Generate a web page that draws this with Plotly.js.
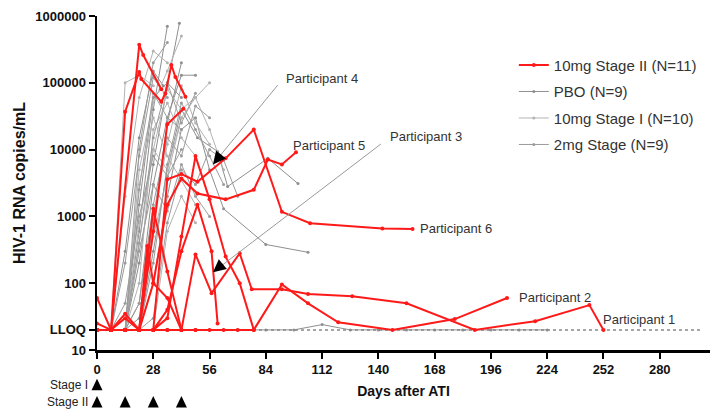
<!DOCTYPE html>
<html><head><meta charset="utf-8">
<script src="https://cdn.plot.ly/plotly-3.0.1.min.js"></script>
<style>html,body{margin:0;padding:0;background:#fff}#chart{width:717px;height:411px}</style>
</head><body><div id="chart"></div>
<script>
// ---------- data ----------
const LLOQ = 20;
const xTicks = [0, 28, 56, 84, 112, 140, 168, 196, 224, 252, 280];
const yTickVals = [10, 20, 100, 1000, 10000, 100000, 1000000];
const yTickText = ['10', 'LLOQ', '100', '1000', '10000', '100000', '1000000'];
const stageIDoseDays = [0];
const stageIIDoseDays = [0, 14, 28, 42];

// 10mg Stage II (N=11)
const stage2Days = [
  [0,7,21,23,32],
  [0,7,14,21,22,32,34,37,39,44],
  [0,7,14,21,28,35,43],
  [0,7,14,21,28,35,42,50,64,78,92,106,142,157],
  [0,7,14,21,28,35,42,50,64,78,85,92,99],
  [0,7,14,21,28,35,42,49,57,71,77,92,105,127,154,188,218,245,252],
  [0,7,14,21,28,35,42,49,56,63,70,78,92,105,120,147,178,204],
  [0,7,14,21,28,35,42,50,57,60],
  [0,7,14,21,28,35,42],
  [0,7,14,21,25,28,35,42,49],
  [0,7,14,21,28,35,42,49,56,64,71,78]
];
const stage2Vals = [
  [20,20,370000,260000,80000],
  [20,20,37000,145000,114000,52000,69000,185000,122000,62000],
  [60,20,20,20,600,24000,41000],
  [20,20,20,20,20,3600,4300,3300,7400,20000,1170,790,660,650],
  [20,20,20,20,100,1500,3700,2200,1800,2500,7100,6000,9100],
  [25,20,30,20,20,20,20,270,71,280,81,81,69,64,50,20,27,47,20],
  [20,20,20,20,20,20,20,20,20,20,20,20,96,50,26,20,29,60],
  [20,20,20,20,20,40,300,1500,300,25],
  [20,20,20,20,1300,150,20],
  [20,20,35,20,360,100,60,20,20],
  [20,20,20,20,20,30,500,8000,1800,250,100,20]
];

// PBO (N=9)
const pboDays = [
  [0,7,14,21,28,35],
  [0,7,14,21,28,35,41],
  [0,7,14,21,28,33],
  [0,7,14,21,28,35,42],
  [0,7,14,21,28,35,42,49],
  [0,7,14,21,28,35,42,50,60,65,85,100],
  [0,7,14,21,28,35,42,49,56,63,84,105],
  [0,7,14,21,28,35,42],
  [0,7,14,21,28,35,42,56,70,84,98,112,126,140,154,168,182,196,210,224]
];
const pboVals = [
  [20,20,20,600,40000,700000],
  [20,20,20,200,6000,90000,780000],
  [20,20,300,15000,150000,90000],
  [20,20,20,1500,60000,100000,60000],
  [20,20,20,50,3000,30000,130000,130000],
  [20,20,20,20,300,5000,40000,15000,9400,2800,7400,3100],
  [20,20,20,20,100,2000,20000,30000,5000,1300,380,290],
  [20,20,20,30,800,25000,200000],
  [20,20,20,20,20,20,20,20,20,20,20,24,20,20,20,20,20,20,20,20]
];

// 10mg Stage I (N=10)
const stage1Days = [
  [0,7,14,21,28],
  [0,7,14,21,28,35],
  [0,7,14,21,28,35,42],
  [0,7,14,21,28,35,42,49,56],
  [0,7,14,21,28,35,42,49],
  [0,7,14,21,28,35,42,49,56],
  [0,7,14,21,28,35,42,49],
  [0,7,14,21,28,35,42,49,56,63],
  [0,7,14,21,28,35,42],
  [0,7,14,21,28,35,42,49]
];
const stage1Vals = [
  [20,20,100000,130000,90000],
  [20,20,2000,60000,300000,200000],
  [20,20,20,5000,50000,150000,500000],
  [20,20,20,400,10000,80000,40000,60000,100000],
  [20,20,20,100,20000,50000,15000,8000],
  [20,20,20,20,1000,12000,90000,25000,12000],
  [20,20,20,3000,30000,8000,3500,1500],
  [20,20,20,20,500,4000,30000,60000,20000,5000],
  [20,20,20,800,10000,5000,30000],
  [20,20,20,20,20,600,2000,800]
];

// 2mg Stage (N=9)
const mg2Days = [
  [0,7,14,21,28,35],
  [0,7,14,21,28,35,42],
  [0,7,14,21,28,35,42,49],
  [0,7,14,21,28,35,42,49,56],
  [0,7,14,21,28,35,42,49,56,63],
  [0,7,14,21,28,35,42],
  [0,7,14,21,28,35],
  [0,7,14,21,28,35,42,49,56,63,70],
  [0,7,14,21,28,35,42,49,56]
];
const mg2Vals = [
  [20,20,200,8000,120000,60000],
  [20,20,20,2500,70000,30000,20000],
  [20,20,20,400,15000,100000,25000,70000],
  [20,20,20,50,1500,15000,8000,45000,30000],
  [20,20,20,20,200,6000,50000,20000,8000,3000],
  [20,20,50,1000,8000,4000,10000],
  [20,20,20,10000,200000,400000],
  [20,20,20,20,30,800,5000,3000,10000,7000,2000],
  [20,20,20,300,3000,1200,6000,2000,1000]
];

// ---------- traces ----------
const traces = [];
function addGroup(daysList, valsList, name, color, lw, ms, rank) {
  daysList.forEach((d, i) => {
    traces.push({
      type: 'scatter', mode: 'lines+markers', x: d, y: valsList[i],
      name: name, legendgroup: name, showlegend: i === 0, legendrank: rank,
      line: {color: color, width: lw},
      marker: {color: color, size: ms, symbol: 'circle'},
      hoverinfo: 'skip'
    });
  });
}
addGroup(pboDays, pboVals, 'PBO (N=9)', '#8f8f8f', 1, 3, 2);
addGroup(stage1Days, stage1Vals, '10mg Stage I (N=10)', '#b3b3b3', 1, 3, 3);
addGroup(mg2Days, mg2Vals, '2mg Stage (N=9)', '#9c9c9c', 1, 3, 4);
// LLOQ dotted reference
traces.push({type:'scatter', mode:'lines', x:[0, 300], y:[LLOQ, LLOQ], showlegend:false,
  line:{color:'#888', width:1.5, dash:'dot'}, hoverinfo:'skip'});
addGroup(stage2Days, stage2Vals, '10mg Stage II (N=11)', '#ff1a1a', 2, 4, 1);

// ---------- annotations ----------
const L = Math.log10;
const annFont = {family: 'Liberation Sans, Arial, sans-serif', size: 13, color: '#333'};
const annotations = [
  {x: 93, y: L(115000), text: 'Participant 4'},
  {x: 96.5, y: L(11700), text: 'Participant 5'},
  {x: 145, y: L(15500), text: 'Participant 3'},
  {x: 159.5, y: L(660), text: 'Participant 6'},
  {x: 209, y: L(62), text: 'Participant 2'},
  {x: 251, y: L(29), text: 'Participant 1'}
].map(a => Object.assign({xref:'x', yref:'y', xanchor:'left', yanchor:'middle', showarrow:false, font: annFont}, a));

// leader lines
annotations.push({xref:'x', yref:'y', axref:'x', ayref:'y', x:57.7, y:L(6000), ax:90.5, ay:L(97000),
  text:'', showarrow:true, arrowhead:0, arrowwidth:1, arrowcolor:'#9a9a9a'});
annotations.push({xref:'x', yref:'y', axref:'x', ayref:'y', x:57.7, y:L(146), ax:142, ay:L(12600),
  text:'', showarrow:true, arrowhead:0, arrowwidth:1, arrowcolor:'#9a9a9a'});
// black arrowheads
annotations.push({xref:'x', yref:'y', x:57.7, y:L(6000), ax:9, ay:-11, text:'', showarrow:true,
  arrowhead:2, arrowsize:1.7, arrowwidth:1.5, arrowcolor:'#000'});
annotations.push({xref:'x', yref:'y', x:57.7, y:L(146), ax:11, ay:-9, text:'', showarrow:true,
  arrowhead:2, arrowsize:1.7, arrowwidth:1.5, arrowcolor:'#000'});

// dosing rows under the axis
const doseFont = {family: 'Liberation Sans Narrow, Liberation Sans, Arial, sans-serif', size: 12, color: '#222'};
const rowYI = -0.104, rowYII = -0.156;
annotations.push({xref:'paper', yref:'paper', x:-0.012, y:rowYI, xanchor:'right', yanchor:'middle', text:'Stage I', showarrow:false, font:doseFont});
annotations.push({xref:'paper', yref:'paper', x:-0.012, y:rowYII, xanchor:'right', yanchor:'middle', text:'Stage II', showarrow:false, font:doseFont});

const xRange = [0, 305];
// dose triangles as pixel-sized shapes anchored at the dosing day (paper ref so day 0 is not clipped)
const triPath = 'M -5.5,-5.5 L 5.5,-5.5 L 0,6 Z';
const shapes = [];
function addDoseMarks(days, rowY) {
  days.forEach(d => shapes.push({type:'path', xref:'paper', yref:'paper', xsizemode:'pixel', ysizemode:'pixel',
    xanchor:(d - xRange[0]) / (xRange[1] - xRange[0]), yanchor:rowY, path:triPath,
    fillcolor:'#000', line:{width:0}, layer:'above'}));
}
addDoseMarks(stageIDoseDays, rowYI);
addDoseMarks(stageIIDoseDays, rowYII);

const tickFont = {family: 'Liberation Sans, Arial, sans-serif', size: 13, color: '#111', weight: 'bold'};
const layout = {
  width: 717, height: 411,
  margin: {l: 97, r: 7, t: 16, b: 61},
  paper_bgcolor: '#fff', plot_bgcolor: '#fff',
  showlegend: true,
  legend: {x: 0.68, y: 0.902, xanchor: 'left', yanchor: 'top', bgcolor: 'rgba(0,0,0,0)',
    font: {family: 'Liberation Sans, Arial, sans-serif', size: 15, color: '#333'}, tracegroupgap: 4},
  xaxis: {
    range: xRange, tickvals: xTicks, ticks: 'outside', ticklen: 6, tickwidth: 2, tickcolor: '#000',
    showline: true, linewidth: 2.5, linecolor: '#000', showgrid: false, zeroline: false,
    tickfont: tickFont,
    title: {text: 'Days after ATI', font: {family: 'Liberation Sans, Arial, sans-serif', size: 14, color: '#111', weight: 'bold'}, standoff: 10}
  },
  yaxis: {
    type: 'log', range: [1, 6], tickvals: yTickVals, ticktext: yTickText,
    ticks: 'outside', ticklen: 6, tickwidth: 2, tickcolor: '#000',
    showline: true, linewidth: 2.5, linecolor: '#000', showgrid: false, zeroline: false,
    tickfont: tickFont,
    title: {text: 'HIV-1 RNA copies/mL', font: {family: 'Liberation Sans, Arial, sans-serif', size: 16, color: '#111', weight: 'bold'}, standoff: 6}
  },
  shapes: shapes,
  annotations: annotations
};
Plotly.newPlot('chart', traces, layout, {staticPlot: true, displayModeBar: false});
</script></body></html>
